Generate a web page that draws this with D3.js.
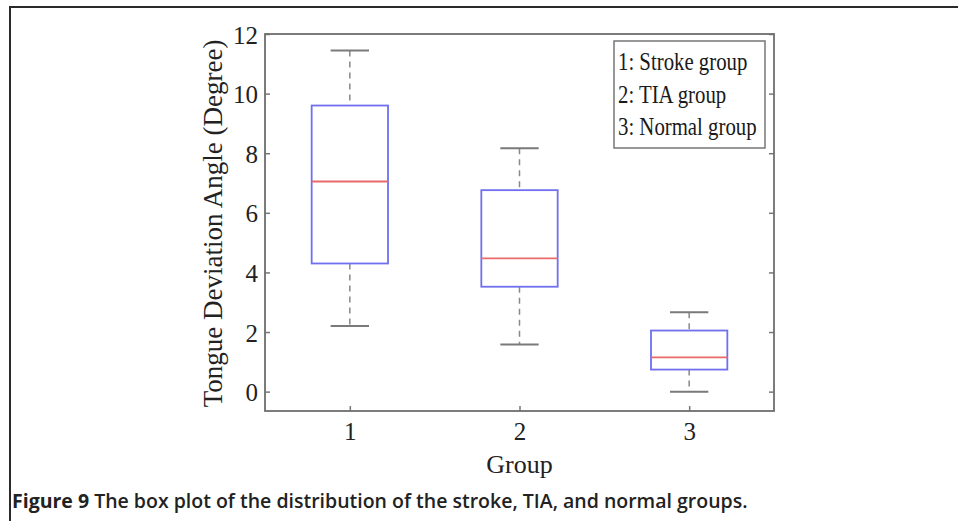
<!DOCTYPE html>
<html>
<head>
<meta charset="utf-8">
<script src="https://cdn.jsdelivr.net/npm/d3@7"></script>
<style>
  body { margin: 0; background: #fff; }
  svg { display: block; }
</style>
</head>
<body>
<div id="chart"></div>
<script>
// data
const groups = [1, 2, 3];
const whiskerHigh = [11.45, 8.17, 2.66];
const q3 = [9.6, 6.76, 2.05];
const medians = [7.05, 4.47, 1.15];
const q1 = [4.3, 3.52, 0.74];
const whiskerLow = [2.2, 1.58, 0];
const yTicks = [0, 2, 4, 6, 8, 10, 12];
const legendItems = ["1: Stroke group", "2: TIA group", "3: Normal group"];
const caption = "The box plot of the distribution of the stroke, TIA, and normal groups.";

const W = 958, H = 521;
const plot = { left: 265, right: 774, top: 34, bottom: 411 };
const serif = "'Liberation Serif', 'Times New Roman', serif";

const svg = d3.select("#chart").append("svg")
  .attr("width", W)
  .attr("height", H);

// outer figure frame (top + left rules)
svg.append("path")
  .attr("d", `M10,${H} L10,7 L${W},7`)
  .attr("fill", "none")
  .attr("stroke", "#2a2a2a")
  .attr("stroke-width", 2);

// scales
const x = d3.scaleLinear().domain([0.5, 3.5]).range([plot.left, plot.right]);
const y = d3.scaleLinear().domain([-0.65, 12]).range([plot.bottom, plot.top]);

// axes
const yAxis = svg.append("g")
  .attr("transform", `translate(${plot.left},0)`)
  .call(d3.axisLeft(y).tickValues(yTicks).tickSizeInner(-5).tickSizeOuter(0).tickPadding(7));

const yAxisR = svg.append("g")
  .attr("transform", `translate(${plot.right},0)`)
  .call(d3.axisRight(y).tickValues(yTicks).tickSizeInner(-5).tickSizeOuter(0).tickFormat(""));

const xAxis = svg.append("g")
  .attr("transform", `translate(0,${plot.bottom})`)
  .call(d3.axisBottom(x).tickValues(groups).tickFormat(d3.format("d"))
    .tickSizeInner(-5).tickSizeOuter(0).tickPadding(0));

[yAxis, yAxisR, xAxis].forEach(g => {
  g.select(".domain").remove();
  g.selectAll("line").attr("stroke", "#777").attr("stroke-width", 1.5);
});

yAxis.selectAll("text")
  .attr("dy", "0.36em")
  .style("font-family", serif)
  .style("font-size", "25px")
  .attr("fill", "#222");

xAxis.selectAll("text")
  .attr("y", 29)
  .attr("dy", null)
  .style("font-family", serif)
  .style("font-size", "25px")
  .attr("fill", "#222");

// plot frame
svg.append("rect")
  .attr("x", plot.left)
  .attr("y", plot.top)
  .attr("width", plot.right - plot.left)
  .attr("height", plot.bottom - plot.top)
  .attr("fill", "none")
  .attr("stroke", "#6e6e6e")
  .attr("stroke-width", 1.8);

// axis titles
svg.append("text")
  .attr("transform", `translate(222,${(plot.top + plot.bottom) / 2 + 1}) rotate(-90)`)
  .attr("text-anchor", "middle")
  .style("font-family", serif)
  .style("font-size", "27px")
  .attr("fill", "#222")
  .text("Tongue Deviation Angle (Degree)");

svg.append("text")
  .attr("x", x(2))
  .attr("y", 473)
  .attr("text-anchor", "middle")
  .style("font-family", serif)
  .style("font-size", "26px")
  .attr("fill", "#222")
  .text("Group");

// boxes
const boxHalf = 0.225;
const capHalf = 0.113;
const boxes = groups.map((g, i) => ({
  g, hi: whiskerHigh[i], q3: q3[i], med: medians[i], q1: q1[i], lo: whiskerLow[i]
}));

const bx = svg.append("g").selectAll("g")
  .data(boxes)
  .join("g");

// dashed whiskers
bx.append("line")
  .attr("x1", d => x(d.g)).attr("x2", d => x(d.g))
  .attr("y1", d => y(d.hi)).attr("y2", d => y(d.q3))
  .attr("stroke", "#888").attr("stroke-width", 1.5)
  .attr("stroke-dasharray", "6,5");
bx.append("line")
  .attr("x1", d => x(d.g)).attr("x2", d => x(d.g))
  .attr("y1", d => y(d.q1)).attr("y2", d => y(d.lo))
  .attr("stroke", "#888").attr("stroke-width", 1.5)
  .attr("stroke-dasharray", "6,5");

// caps
bx.selectAll(".cap")
  .data(d => [{ g: d.g, v: d.hi }, { g: d.g, v: d.lo }])
  .join("line")
  .attr("class", "cap")
  .attr("x1", d => x(d.g - capHalf)).attr("x2", d => x(d.g + capHalf))
  .attr("y1", d => y(d.v)).attr("y2", d => y(d.v))
  .attr("stroke", "#7a7a7a").attr("stroke-width", 2);

// box body
bx.append("rect")
  .attr("x", d => x(d.g - boxHalf))
  .attr("y", d => y(d.q3))
  .attr("width", d => x(d.g + boxHalf) - x(d.g - boxHalf))
  .attr("height", d => y(d.q1) - y(d.q3))
  .attr("fill", "none")
  .attr("stroke", "#6f6ff0")
  .attr("stroke-width", 1.8);

// median
bx.append("line")
  .attr("x1", d => x(d.g - boxHalf)).attr("x2", d => x(d.g + boxHalf))
  .attr("y1", d => y(d.med)).attr("y2", d => y(d.med))
  .attr("stroke", "#ea6a6a").attr("stroke-width", 1.8);

// legend (text is squeezed sideways in the original)
const legend = svg.append("g").attr("transform", "translate(614,41)");
legend.append("rect")
  .attr("width", 151)
  .attr("height", 107)
  .attr("fill", "#fff")
  .attr("stroke", "#777")
  .attr("stroke-width", 1.5);
legend.selectAll("text")
  .data(legendItems)
  .join("text")
  .attr("transform", (d, i) => `translate(4,${29 + i * 32.5}) scale(0.8,1)`)
  .style("font-family", serif)
  .style("font-size", "26px")
  .attr("fill", "#1a1a1a")
  .text(d => d);

// caption
const cap = svg.append("text")
  .attr("x", 12)
  .attr("y", 508)
  .style("font-family", "'Open Sans', 'Noto Sans', sans-serif")
  .style("font-size", "19.5px")
  .style("font-weight", "700")
  .attr("fill", "#222");
cap.append("tspan").text("Figure 9 ");
cap.append("tspan").style("font-weight", "600").text(caption);
</script>
</body>
</html>
